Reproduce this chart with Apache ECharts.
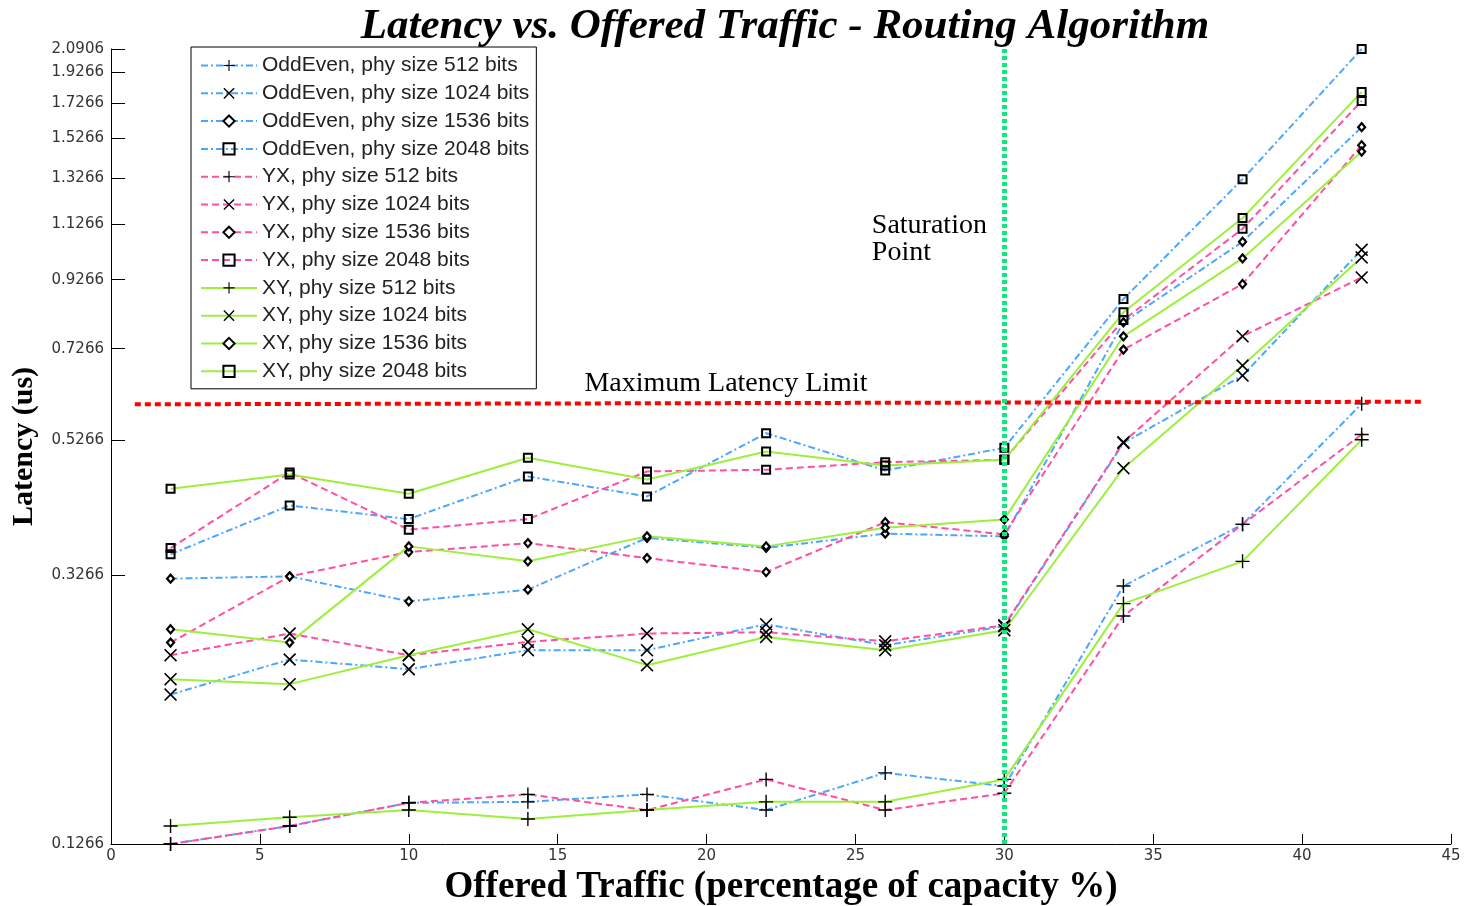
<!DOCTYPE html>
<html>
<head>
<meta charset="utf-8">
<title>Latency vs. Offered Traffic - Routing Algorithm</title>
<script src="https://cdn.jsdelivr.net/npm/echarts@6/dist/echarts.min.js"></script>
<style>
  html, body { margin: 0; padding: 0; background: #ffffff; }
  #chart { width: 1470px; height: 906px; }
</style>
</head>
<body>
<div id="chart"></div>
<script>
// Offered traffic (% of capacity)
const traffic = [2, 6, 10, 14, 18, 22, 26, 30, 34, 38, 42];

// Latency (us) per routing algorithm and phy size
const oddEven512  = [0.1266, 0.1349, 0.1464, 0.1469, 0.1508, 0.1427, 0.1627, 0.1553, 0.3145, 0.3909, 0.5980];
const oddEven1024 = [0.2145, 0.2427, 0.2345, 0.2508, 0.2508, 0.2748, 0.2552, 0.2729, 0.5209, 0.6607, 1.0298];
const oddEven1536 = [0.3228, 0.3254, 0.2980, 0.3105, 0.3727, 0.3598, 0.3783, 0.3747, 0.7972, 1.0593, 1.5868];
const oddEven2048 = [0.3517, 0.4179, 0.3982, 0.4629, 0.4314, 0.5392, 0.4728, 0.5121, 0.8657, 1.3211, 2.0906];

const yx512  = [0.1266, 0.1349, 0.1464, 0.1508, 0.1427, 0.1590, 0.1427, 0.1514, 0.2830, 0.3909, 0.5367];
const yx1024 = [0.2464, 0.2660, 0.2464, 0.2582, 0.2660, 0.2672, 0.2588, 0.2738, 0.5223, 0.7588, 0.9341];
const yx1536 = [0.2576, 0.3254, 0.3545, 0.3659, 0.3471, 0.3304, 0.3940, 0.3773, 0.7241, 0.9126, 1.4890];
const yx2048 = [0.3596, 0.4695, 0.3836, 0.3982, 0.4711, 0.4739, 0.4868, 0.4909, 0.8039, 1.1089, 1.7407];

const xy512  = [0.1349, 0.1391, 0.1427, 0.1383, 0.1427, 0.1469, 0.1469, 0.1590, 0.2956, 0.3431, 0.5268];
const xy1024 = [0.2264, 0.2225, 0.2464, 0.2700, 0.2379, 0.2628, 0.2508, 0.2691, 0.4766, 0.6844, 1.0023];
const xy1536 = [0.2700, 0.2576, 0.3617, 0.3431, 0.3747, 0.3617, 0.3863, 0.3978, 0.7588, 0.9987, 1.4559];
const xy2048 = [0.4432, 0.4662, 0.4355, 0.4944, 0.4580, 0.5055, 0.4812, 0.4909, 0.8258, 1.1515, 1.7968];

// Axis ticks
const yTicks = [0.1266, 0.3266, 0.5266, 0.7266, 0.9266, 1.1266, 1.3266, 1.5266, 1.7266, 1.9266, 2.0906];
const xTicks = [0, 5, 10, 15, 20, 25, 30, 35, 40, 45];

// Reference levels
const latencyLimit = 0.6;
const saturationTraffic = 30;

const COLORS = { oddEven: '#4ba6ff', yx: '#ff4fa3', xy: '#9cf03c' };
const DASH = { oddEven: [7, 3, 2, 3], yx: [7, 4], xy: 'solid' };

const PLUS = 'path://M-1,-10 L1,-10 L1,-1 L10,-1 L10,1 L1,1 L1,10 L-1,10 L-1,1 L-10,1 L-10,-1 L-1,-1 Z';
const CROSS = 'path://M-8,-6.6 L-6.6,-8 L0,-1.4 L6.6,-8 L8,-6.6 L1.4,0 L8,6.6 L6.6,8 L0,1.4 L-6.6,8 L-8,6.6 L-1.4,0 Z';

const MARKERS = {
  512:  { symbol: PLUS,  symbolSize: 14, itemStyle: { color: '#000' } },
  1024: { symbol: CROSS, symbolSize: 13, itemStyle: { color: '#000' } },
  1536: { symbol: 'diamond', symbolSize: [7, 8], itemStyle: { color: '#fff', borderColor: '#000', borderWidth: 2.2 } },
  2048: { symbol: 'rect', symbolSize: 8, itemStyle: { color: 'rgba(0,0,0,0)', borderColor: '#000', borderWidth: 2 } }
};

function makeSeries(name, algo, size, values) {
  const m = MARKERS[size];
  return {
    name: name,
    type: 'line',
    data: traffic.map((t, i) => [t, values[i]]),
    symbol: m.symbol,
    symbolSize: m.symbolSize,
    showAllSymbol: true,
    itemStyle: m.itemStyle,
    lineStyle: { color: COLORS[algo], width: 2, type: DASH[algo] },
    emphasis: { disabled: true },
    animation: false
  };
}

const series = [
  makeSeries('OddEven, phy size 512 bits', 'oddEven', 512, oddEven512),
  makeSeries('OddEven, phy size 1024 bits', 'oddEven', 1024, oddEven1024),
  makeSeries('OddEven, phy size 1536 bits', 'oddEven', 1536, oddEven1536),
  makeSeries('OddEven, phy size 2048 bits', 'oddEven', 2048, oddEven2048),
  makeSeries('YX, phy size 512 bits', 'yx', 512, yx512),
  makeSeries('YX, phy size 1024 bits', 'yx', 1024, yx1024),
  makeSeries('YX, phy size 1536 bits', 'yx', 1536, yx1536),
  makeSeries('YX, phy size 2048 bits', 'yx', 2048, yx2048),
  makeSeries('XY, phy size 512 bits', 'xy', 512, xy512),
  makeSeries('XY, phy size 1024 bits', 'xy', 1024, xy1024),
  makeSeries('XY, phy size 1536 bits', 'xy', 1536, xy1536),
  makeSeries('XY, phy size 2048 bits', 'xy', 2048, xy2048)
];

// Reference lines and their captions
series.push({
  name: 'reference',
  type: 'line',
  data: [],
  silent: true,
  animation: false,
  markLine: {
    silent: true,
    symbol: ['none', 'none'],
    label: { show: false },
    data: [
      [
        { coord: [0.8, 0.597], lineStyle: { color: '#ff0000', width: 4, type: [6, 4] } },
        { coord: [44.1, 0.6025] }
      ],
      [
        { coord: [saturationTraffic, 0.1266], lineStyle: { color: '#12e57e', width: 5, type: [4, 3] } },
        { coord: [saturationTraffic, 2.0906] }
      ]
    ]
  },
  markPoint: {
    silent: true,
    symbol: 'circle',
    symbolSize: 0,
    data: [
      {
        coord: [20.65, 0.642],
        label: {
          show: true, formatter: 'Maximum Latency Limit', position: 'inside',
          fontFamily: 'Liberation Serif', fontSize: 28, color: '#000'
        }
      },
      {
        coord: [25.55, 1.07],
        label: {
          show: true, formatter: 'Saturation\nPoint', position: 'right', distance: 0,
          align: 'left', verticalAlign: 'middle', lineHeight: 27,
          fontFamily: 'Liberation Serif', fontSize: 28, color: '#000'
        }
      }
    ]
  }
});

const chart = echarts.init(document.getElementById('chart'), null, { renderer: 'canvas' });
chart.setOption({
  backgroundColor: '#ffffff',
  animation: false,
  title: {
    text: 'Latency vs. Offered Traffic - Routing Algorithm',
    left: 780,
    textAlign: 'center',
    top: 0,
    textStyle: {
      fontFamily: 'Liberation Serif', fontStyle: 'italic', fontWeight: 'bold',
      fontSize: 43, color: '#000'
    }
  },
  legend: {
    data: series.slice(0, 12).map(s => s.name),
    orient: 'vertical',
    left: 191,
    top: 47,
    itemWidth: 56,
    itemHeight: 14,
    itemGap: 6.8,
    padding: [8, 7, 7, 9],
    backgroundColor: '#ffffff',
    borderColor: '#000',
    borderWidth: 1,
    borderRadius: 0,
    selectedMode: false,
    textStyle: { fontFamily: 'Liberation Sans', fontSize: 21, color: '#222', lineHeight: 21 }
  },
  grid: { left: 111, right: 19, top: 49, bottom: 62, containLabel: false, outerBoundsMode: 'none' },
  xAxis: {
    type: 'value',
    min: 0, max: 45, interval: 5,
    name: 'Offered Traffic (percentage of capacity %)',
    nameLocation: 'middle',
    nameGap: 21,
    nameTextStyle: { fontFamily: 'Liberation Serif', fontWeight: 'bold', fontSize: 37, color: '#000' },
    axisLine: { show: true, onZero: false, lineStyle: { color: '#000', width: 1 } },
    axisTick: { show: true, inside: true, length: 10, lineStyle: { color: '#000' } },
    axisLabel: {
      show: true, margin: 5, color: '#333', fontFamily: 'DejaVu Sans', fontSize: 15,
      customValues: xTicks
    },
    splitLine: { show: false }
  },
  yAxis: {
    type: 'log',
    logBase: 10,
    min: 0.1266, max: 2.0906,
    name: 'Latency (us)',
    nameLocation: 'middle',
    nameGap: 72,
    nameRotate: 90,
    nameTextStyle: { fontFamily: 'Liberation Serif', fontWeight: 'bold', fontSize: 30, color: '#000' },
    axisLine: { show: true, lineStyle: { color: '#000', width: 1 } },
    axisTick: { show: true, inside: true, length: 14, lineStyle: { color: '#000' }, customValues: yTicks },
    axisLabel: {
      show: true, margin: 7, color: '#333', fontFamily: 'DejaVu Sans', fontSize: 15,
      customValues: yTicks,
      formatter: v => Number(v).toFixed(4)
    },
    splitLine: { show: false }
  },
  series: series
});
</script>
</body>
</html>
